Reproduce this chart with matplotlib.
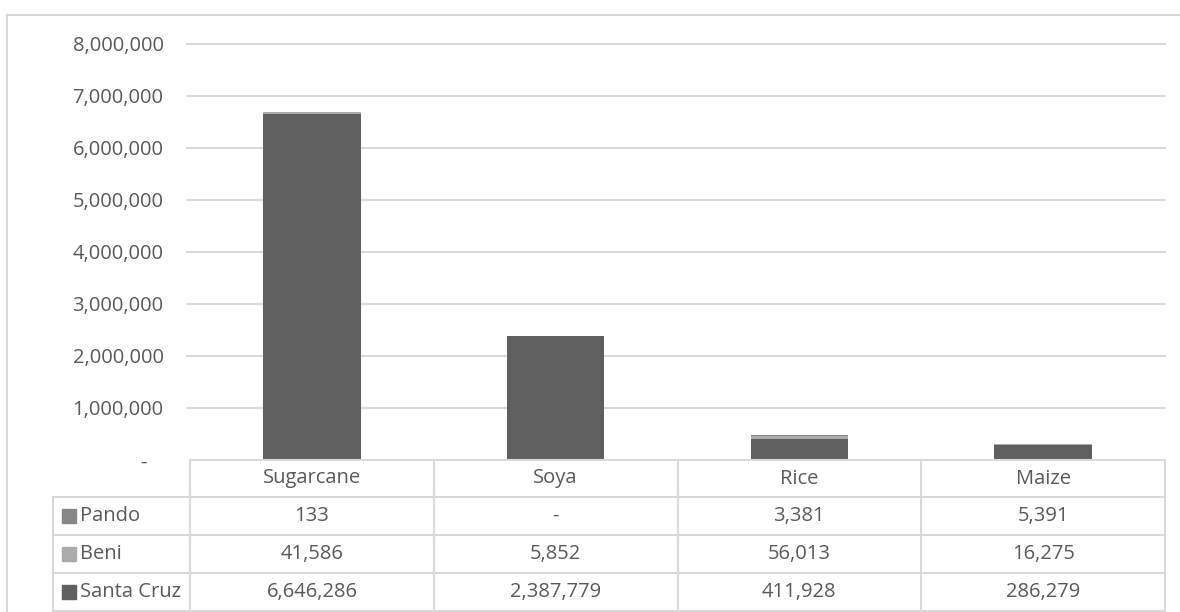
import matplotlib
matplotlib.use("Agg")
import matplotlib.pyplot as plt
from matplotlib.patches import Rectangle
from matplotlib.transforms import blended_transform_factory
from matplotlib.lines import Line2D

categories = ["Sugarcane", "Soya", "Rice", "Maize"]
santa_cruz = [6646286, 2387779, 411928, 286279]
beni = [41586, 5852, 56013, 16275]
pando = [133, 0, 3381, 5391]
series_names = ["Pando", "Beni", "Santa Cruz"]
yticks = [0, 1000000, 2000000, 3000000, 4000000, 5000000, 6000000, 7000000, 8000000]

colors = {"Santa Cruz": "#5f5f5f", "Beni": "#ababab", "Pando": "#878787"}
txt = "#595959"
grid = "#d9d9d9"
plt.rcParams['font.family'] = ['Open Sans', 'DejaVu Sans']
FS = 14.5

W, H = 1180, 612
fig = plt.figure(figsize=(W/100, H/100), dpi=100)

def fx(px): return px / W
def fy(py): return 1 - py / H

left, right, top, bot = 190, 1165, 44, 460
ax = fig.add_axes([fx(left), fy(bot), fx(right) - fx(left), fy(top) - fy(bot)])
ax.set_xlim(-0.5, len(categories) - 0.5)
ax.set_ylim(0, 8000000)
x = list(range(len(categories)))
bw = 0.40
ax.bar(x, santa_cruz, bw, color=colors["Santa Cruz"], zorder=3)
ax.bar(x, beni, bw, bottom=santa_cruz, color=colors["Beni"], zorder=3)
b2 = [a + b for a, b in zip(santa_cruz, beni)]
ax.bar(x, pando, bw, bottom=b2, color=colors["Pando"], zorder=3)

ax.set_yticks(yticks)
ax.set_yticklabels([f"{v:,}" if v else "-   " for v in yticks])
ax.tick_params(axis='y', length=0, pad=19, labelsize=FS, labelcolor=txt)
ax.tick_params(axis='x', length=0, labelbottom=False)
for v in yticks[1:]:
    fig.add_artist(Line2D([fx(187), fx(right)], [fy(bot) + (fy(top) - fy(bot)) * v / 8000000] * 2,
                          transform=fig.transFigure, color=grid, lw=1.5, zorder=0))
for s in ax.spines.values():
    s.set_visible(False)
ax.patch.set_alpha(0)

# outer chart border
fig.patches.append(Rectangle((fx(7), fy(700)), fx(1300) - fx(7), fy(15) - fy(700),
                             transform=fig.transFigure, fill=False, ec=grid, lw=1.5))

# data table
tr = blended_transform_factory(ax.transData, fig.transFigure)
trf = fig.transFigure
row_edges = [460, 497, 535, 573, 611]
lc = "#d9d9d9"
fig.add_artist(Line2D([fx(190), fx(right)], [fy(460)] * 2, transform=trf, color=lc, lw=1.5))
for ye in row_edges[1:]:
    fig.add_artist(Line2D([fx(53), fx(right)], [fy(ye)] * 2, transform=trf, color=lc, lw=1.5))
fig.add_artist(Line2D([fx(53)] * 2, [fy(497), fy(611)], transform=trf, color=lc, lw=1.5))
fig.add_artist(Line2D([fx(190)] * 2, [fy(460), fy(611)], transform=trf, color=lc, lw=1.5))
for i in range(len(categories)):
    xe = i + 0.5
    fig.add_artist(Line2D([xe, xe], [fy(460), fy(611)], transform=tr, color=lc, lw=1.5))

centers = [(row_edges[i] + row_edges[i + 1]) / 2 for i in range(4)]
for i, c in enumerate(categories):
    fig.text(i, fy(centers[0]), c, transform=tr, ha='center', va='center', fontsize=FS, color=txt)
rows = {"Pando": pando, "Beni": beni, "Santa Cruz": santa_cruz}
for r, name in enumerate(series_names):
    yc = fy(centers[r + 1])
    fig.patches.append(Rectangle((fx(62), yc - 7 / H), 14 / W, 14 / H, transform=trf,
                                 color=colors[name]))
    fig.text(fx(80), yc, name, ha='left', va='center', fontsize=FS, color=txt)
    for i, v in enumerate(rows[name]):
        fig.text(i, yc, f"{v:,}" if v else "-", transform=tr, ha='center', va='center',
                 fontsize=FS, color=txt)

fig.savefig("out.png", dpi=100)
